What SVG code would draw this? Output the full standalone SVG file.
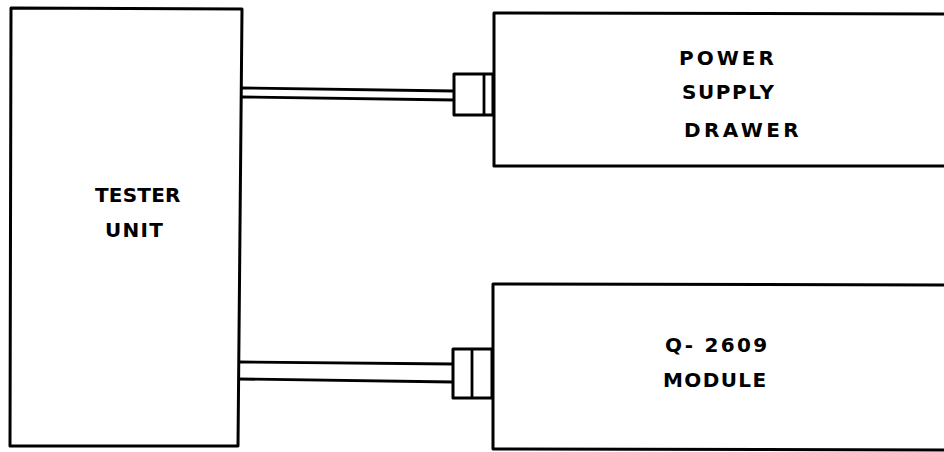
<svg xmlns="http://www.w3.org/2000/svg" width="944" height="452" viewBox="0 0 944 452">
<style>
.box{fill:none;stroke:#000;stroke-width:3;stroke-linejoin:round}
.ln{fill:none;stroke:#000;stroke-width:2.8}
.plug{fill:#fff;stroke:#000;stroke-width:3;stroke-linejoin:round}
.t{font-family:"DejaVu Sans","Liberation Sans",sans-serif;font-weight:bold;font-size:20px;fill:#000}
</style>
<rect width="944" height="452" fill="#fff"/>
<g id="tester">
<polygon class="box" points="11,8 242,9 238,446 10,446"/>
<text class="t" x="95" y="202" letter-spacing="0.2">TESTER</text>
<text class="t" x="105" y="237" letter-spacing="1.3">UNIT</text>
</g>
<g id="power">
<polyline class="box" points="950,14 494,13 494,166 950,166"/>
<text class="t" x="679" y="65" letter-spacing="3">POWER</text>
<text class="t" x="682" y="99" letter-spacing="1.6">SUPPLY</text>
<text class="t" x="684" y="137" letter-spacing="3.4">DRAWER</text>
</g>
<g id="module">
<polyline class="box" points="950,285 493,284 493,449 950,450"/>
<text class="t" x="665" y="352" letter-spacing="2.3">Q- 2609</text>
<text class="t" x="663" y="387" letter-spacing="1.4">MODULE</text>
</g>
<g id="connectors">
<path class="ln" d="M242,88 L454,91 M242,97 L454,100"/>
<rect class="plug" x="454" y="74" width="39" height="41"/>
<line class="ln" x1="484" y1="74" x2="484" y2="115"/>
<path class="ln" d="M239,362 L453,364 M239,379 L453,382"/>
<rect class="plug" x="453" y="349" width="39" height="49"/>
<line class="ln" x1="472" y1="349" x2="472" y2="398"/>
</g>
</svg>
